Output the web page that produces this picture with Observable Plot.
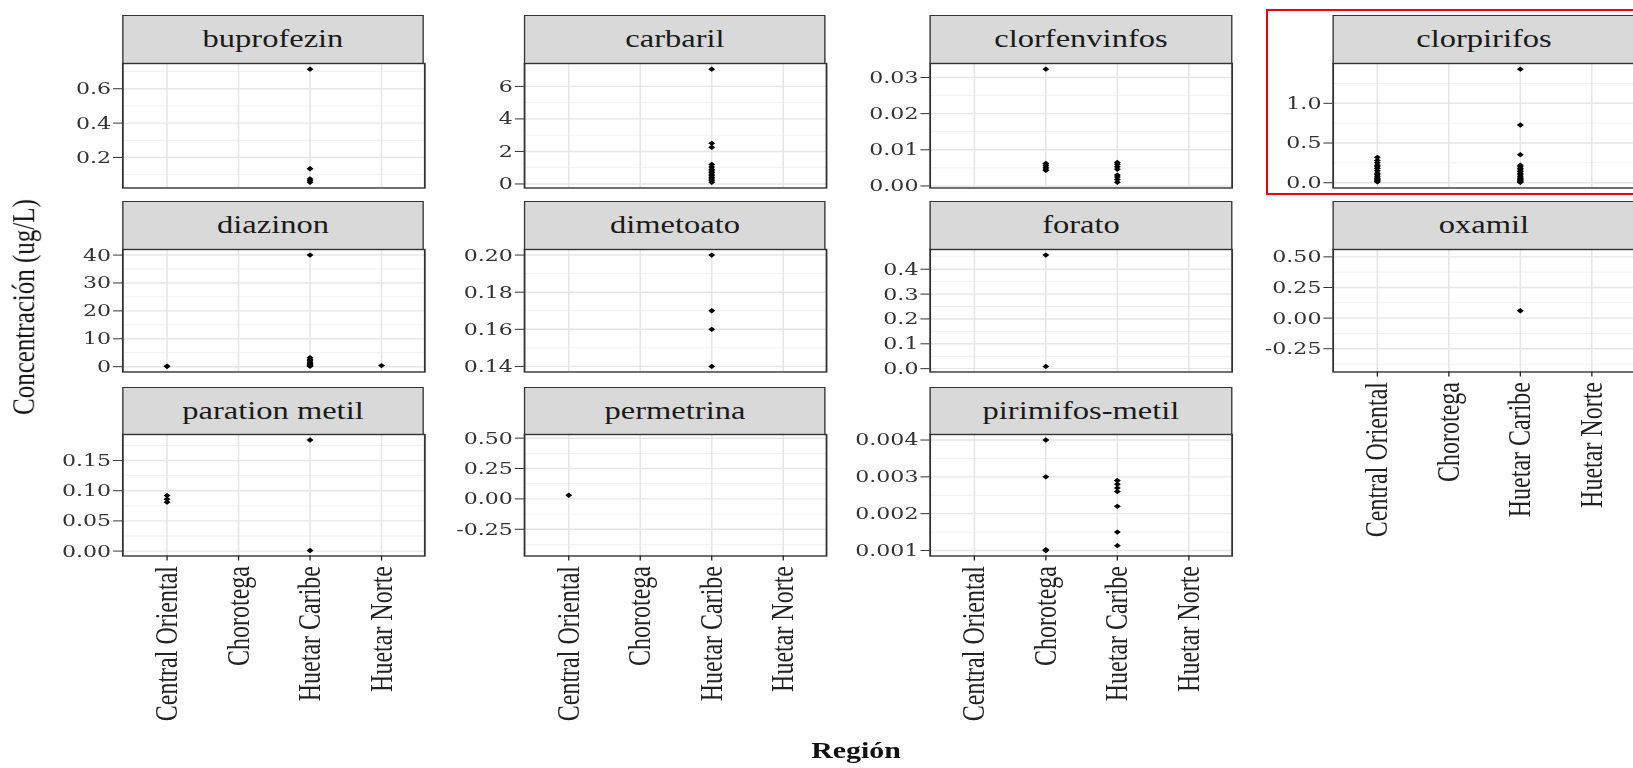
<!DOCTYPE html>
<html><head><meta charset="utf-8">
<script src="https://cdn.jsdelivr.net/npm/d3@7"></script>
<script src="https://cdn.jsdelivr.net/npm/@observablehq/plot@0.6"></script>
<style>
html,body{margin:0;padding:0;background:#fff;width:1633px;height:768px;overflow:hidden;}
#wrap{position:absolute;left:0;top:0;width:1257px;height:768px;transform:scaleX(1.3);transform-origin:0 0;}
.strip{position:absolute;box-sizing:border-box;background:#D9D9D9;border:1.4px solid #333;font-family:"Liberation Serif",serif;font-size:25px;color:#1a1a1a;display:flex;align-items:center;justify-content:center;white-space:nowrap;}
.panel{position:absolute;}
.title{position:absolute;font-family:"Liberation Serif",serif;color:#111;white-space:nowrap;}
#redbox{position:absolute;left:1266px;top:9px;width:390px;height:186px;border:2.6px solid #e8000b;box-sizing:border-box;}
</style></head><body>
<div id="wrap"></div>
<div id="redbox"></div>
<script>
const regions = ["Central Oriental", "Chorotega", "Huetar Caribe", "Huetar Norte"];
const pesticides = ["buprofezin", "carbaril", "clorfenvinfos", "clorpirifos",
  "diazinon", "dimetoato", "forato", "oxamil",
  "paration metil", "permetrina", "pirimifos-metil"];

// measured concentrations (ug/L) by region
const buprofezin = {"Huetar Caribe": [0.714, 0.134, 0.075, 0.065, 0.055]};
const carbaril = {"Huetar Caribe": [7.06, 2.5, 2.25, 1.2, 1.05, 0.9, 0.8, 0.7, 0.6, 0.5, 0.4, 0.3, 0.2, 0.1]};
const clorfenvinfos = {
  "Chorotega": [0.0323, 0.0062, 0.0057, 0.0052, 0.0047, 0.0043],
  "Huetar Caribe": [0.0065, 0.006, 0.0053, 0.0046, 0.003, 0.0025, 0.0018, 0.001]
};
const clorpirifos = {
  "Central Oriental": [0.32, 0.28, 0.25, 0.22, 0.2, 0.18, 0.15, 0.12, 0.1, 0.08, 0.06, 0.05, 0.04, 0.03, 0.02, 0.01],
  "Huetar Caribe": [1.43, 0.727, 0.353, 0.22, 0.2, 0.18, 0.16, 0.14, 0.12, 0.1, 0.08, 0.06, 0.05, 0.04, 0.03, 0.02, 0.01, 0.005]
};
const diazinon = {
  "Central Oriental": [0.2, 0.1],
  "Huetar Caribe": [40, 3.2, 2.6, 2.1, 1.6, 1.2, 0.8, 0.5, 0.3, 0.2],
  "Huetar Norte": [0.4]
};
const dimetoato = {"Huetar Caribe": [0.2, 0.17, 0.16, 0.14]};
const forato = {"Chorotega": [0.457, 0.009]};
const oxamil = {"Huetar Caribe": [0.06]};
const parationMetil = {"Central Oriental": [0.092, 0.086, 0.081], "Huetar Caribe": [0.184, 0.001]};
const permetrina = {"Central Oriental": [0.03]};
const pirimifosMetil = {
  "Chorotega": [0.004, 0.003, 0.00102, 0.001],
  "Huetar Caribe": [0.0029, 0.0028, 0.0027, 0.0026, 0.0022, 0.0015, 0.00113]
};

// y tick values per panel
const ticksBuprofezin = [0.2, 0.4, 0.6];
const ticksCarbaril = [0, 2, 4, 6];
const ticksClorfenvinfos = [0, 0.01, 0.02, 0.03];
const ticksClorpirifos = [0, 0.5, 1.0];
const ticksDiazinon = [0, 10, 20, 30, 40];
const ticksDimetoato = [0.14, 0.16, 0.18, 0.20];
const ticksForato = [0, 0.1, 0.2, 0.3, 0.4];
const ticksOxamil = [-0.25, 0, 0.25, 0.5];
const ticksParation = [0, 0.05, 0.10, 0.15];
const ticksPermetrina = [-0.25, 0, 0.25, 0.5];
const ticksPirimifos = [0.001, 0.002, 0.003, 0.004];

const panelData = [buprofezin, carbaril, clorfenvinfos, clorpirifos, diazinon, dimetoato, forato, oxamil, parationMetil, permetrina, pirimifosMetil];
const panelTicks = [ticksBuprofezin, ticksCarbaril, ticksClorfenvinfos, ticksClorpirifos, ticksDiazinon, ticksDimetoato, ticksForato, ticksOxamil, ticksParation, ticksPermetrina, ticksPirimifos];

const S = 1.3;
const colX = [122, 524, 930, 1333];
const stripTop = [15, 201, 386.5];
const stripH = 47.5;
const plotH = [124.5, 122.5, 121.5];
const panelW = 302;
const wrap = document.getElementById("wrap");

pesticides.forEach((name, i) => {
  const row = Math.floor(i / 4), col = i % 4;
  const obj = panelData[i];
  const rows = regions.flatMap(r => (obj[r] || []).map(v => ({region: r, value: v})));
  const vals = rows.map(d => d.value);
  const lo = d3.min(vals), hi = d3.max(vals);
  const dom = lo === hi ? [lo - 0.5, hi + 0.5] : [lo - (hi - lo) * 0.05, hi + (hi - lo) * 0.05];
  const ticks = panelTicks[i];
  const step = ticks[1] - ticks[0];
  const minor = [ticks[0] - step / 2, ...ticks.slice(0, -1).map(t => t + step / 2), ticks[ticks.length - 1] + step / 2]
    .filter(v => v > dom[0] && v < dom[1]);
  const dec = d3.max(ticks, t => { const s = String(+t.toFixed(10)); return s.includes(".") ? s.split(".")[1].length : 0; });
  const bottom = i + 4 >= pesticides.length;
  const w = panelW / S;
  const ml = 80, mr = 2, mt = 2, mb = bottom ? 200 : 2;
  const x0 = colX[col] / S;
  const plotTop = stripTop[row] + stripH;

  const strip = document.createElement("div");
  strip.className = "strip";
  strip.style.left = x0 + "px";
  strip.style.top = stripTop[row] + "px";
  strip.style.width = w + "px";
  strip.style.height = (stripH + 1) + "px";
  strip.textContent = name;
  wrap.appendChild(strip);

  const marks = [
    Plot.ruleY(minor, {stroke: "#EEEEEE", strokeWidth: 0.8}),
    Plot.ruleY(ticks, {stroke: "#E6E6E6", strokeWidth: 1.4}),
    Plot.ruleX(regions, {stroke: "#E6E6E6", strokeWidth: 1.2}),
    Plot.axisY({ticks, tickFormat: d => d.toFixed(dec), tickSize: 7, tickPadding: 2, fontSize: 17,
      fontFamily: "DejaVu Serif", color: "#333", label: null}),
    Plot.dot(rows, {x: "region", y: "value", symbol: "diamond2", r: 2.4, fill: "#000", stroke: "none"}),
    Plot.frame({stroke: "#333", strokeWidth: 1.4})
  ];
  if (bottom) {
    marks.push(Plot.axisX({tickRotate: -90, tickSize: 5, tickPadding: 5, fontSize: 24,
      fontFamily: "Liberation Serif", color: "#222", label: null}));
  }
  const plot = Plot.plot({
    width: ml + w + mr, height: mt + plotH[row] + mb,
    marginLeft: ml, marginRight: mr, marginTop: mt, marginBottom: mb,
    style: "overflow:visible;background:transparent;max-width:none;",
    x: {type: "point", domain: regions, padding: 0.6, axis: null},
    y: {domain: dom, axis: null},
    marks
  });
  const holder = document.createElement("div");
  holder.className = "panel";
  holder.style.left = (x0 - ml) + "px";
  holder.style.top = (plotTop - mt) + "px";
  holder.appendChild(plot);
  wrap.appendChild(holder);
});

const yTitle = document.createElement("div");
yTitle.className = "title";
yTitle.style.fontSize = "25px";
yTitle.style.left = (23 / S) + "px";
yTitle.style.top = "307px";
yTitle.style.transform = "translate(-50%,-50%) rotate(-90deg)";
yTitle.textContent = "Concentración (ug/L)";
wrap.appendChild(yTitle);

const xTitle = document.createElement("div");
xTitle.className = "title";
xTitle.style.fontSize = "23px";
xTitle.style.fontWeight = "bold";
xTitle.style.left = (856 / S) + "px";
xTitle.style.top = "751px";
xTitle.style.transform = "translate(-50%,-50%)";
xTitle.textContent = "Región";
wrap.appendChild(xTitle);
</script></body></html>
